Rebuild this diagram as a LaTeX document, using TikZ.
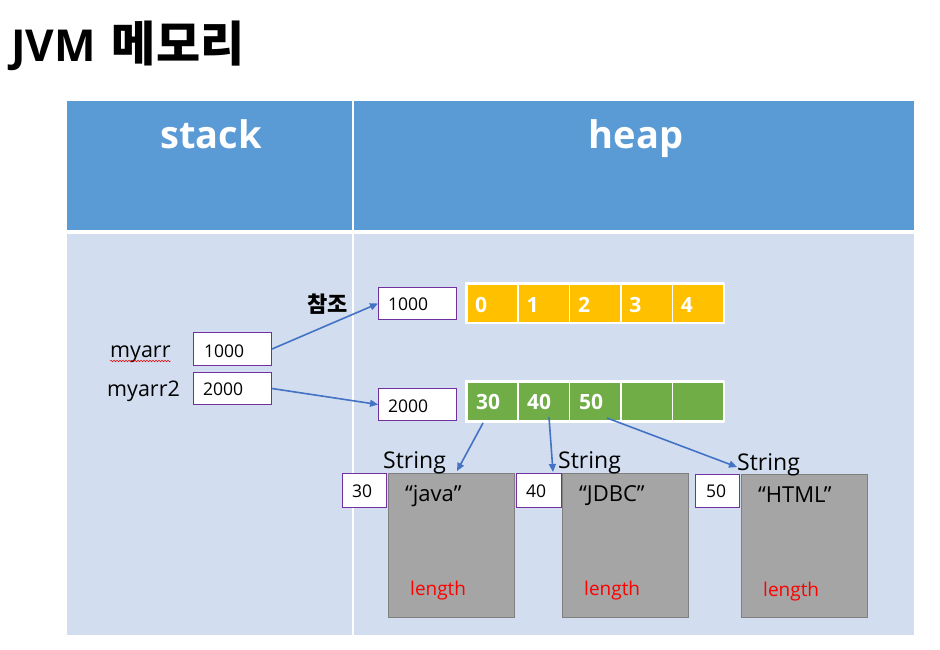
\documentclass[tikz,border=0pt]{standalone}
\usepackage{fontspec}
\setmainfont{Open Sans}
\newfontfamily\kr{Noto Sans CJK KR}
\usetikzlibrary{arrows.meta,decorations.pathmorphing,calc}
\definecolor{hdr}{HTML}{5B9BD5}
\definecolor{bodyc}{HTML}{D2DEEF}
\definecolor{purp}{HTML}{7030A0}
\definecolor{orng}{HTML}{FFC000}
\definecolor{grn}{HTML}{70AD47}
\definecolor{gbox}{HTML}{A5A5A5}
\definecolor{gline}{HTML}{7F7F7F}
\definecolor{arr}{HTML}{4472C4}
\tikzset{
  txt/.style={inner sep=0pt, anchor=base west, font=\fontsize{#1}{#1}\selectfont},
  valbox/.style={draw=purp, line width=1pt, fill=white, inner sep=0pt},
  ocell/.style={fill=orng, draw=white, line width=1.5pt, inner sep=0pt, minimum width=51.4pt, minimum height=39pt},
  gcell/.style={fill=grn, draw=white, line width=1.5pt, inner sep=0pt, minimum width=51.4pt, minimum height=39pt},
  strbox/.style={fill=gbox, draw=gline, line width=1pt, inner sep=0pt},
  ptr/.style={draw=arr, line width=1.6pt, -{Triangle[length=8pt,width=7pt]}},
  celltxt/.style={inner sep=0pt, anchor=base west, text=white, font=\bfseries\fontsize{21}{21}\selectfont},
}
\begin{document}
\begin{tikzpicture}[x=1pt,y=-1pt]
\useasboundingbox (0,0) rectangle (940,649);
\fill[white] (0,0) rectangle (940,649);
% title
\node[inner sep=0pt, anchor=base west, font=\bfseries\fontsize{44}{44}\selectfont] (title) at (11,61) {JVM\hspace{16pt}{\kr\fontsize{48}{48}\selectfont 메모리}};
% table
\fill[hdr] (67,101) rectangle (914,230);
\fill[bodyc] (67,234) rectangle (914,635);
\draw[white, line width=1.5pt] (353,101) -- (353,635);
\node[inner sep=0pt, anchor=base, text=white, font=\bfseries\fontsize{38}{38}\selectfont] (hstack) at (211,148) {stack};
\node[inner sep=0pt, anchor=base, text=white, font=\bfseries\fontsize{38}{38}\selectfont] (hheap) at (636,148) {heap};
% stack
\node[valbox, anchor=north west, minimum width=78pt, minimum height=33pt] (s1) at (193,332) {};
\node[valbox, anchor=north west, minimum width=78pt, minimum height=32pt] (s2) at (193,372) {};
\node[txt=17.5] (s1t) at (204,357) {1000};
\node[txt=17.5] (s2t) at (203,395) {2000};
\node[txt=21.5] (lmy) at (110,357) {myarr};
\node[txt=21.5] (lmy2) at (107,396) {myarr2};
\draw[red!90!black, line width=0.5pt, decorate, decoration={snake, amplitude=0.8pt, segment length=3pt}] ($(lmy.base west)+(0,4)$) coordinate (wv1) -- ($(lmy.base east)+(0,4)$) coordinate (wv2);
% heap refs
\node[valbox, anchor=north west, minimum width=78pt, minimum height=32pt] (h1) at (378,287) {};
\node[valbox, anchor=north west, minimum width=78pt, minimum height=32pt] (h2) at (378,388) {};
\node[txt=17.5] (h1t) at (388,310) {1000};
\node[txt=17.5] (h2t) at (388,412) {2000};
\node[inner sep=0pt, anchor=base west, font=\kr\bfseries\fontsize{22}{22}\selectfont] (cham) at (307,312) {참조};
% orange array
\fill[white] (465,282) rectangle (724,324);
\foreach \i/\v in {0/0,1/1,2/2,3/3,4/4}{
  \node[ocell, anchor=north west] (o\i) at (466+51.4*\i,283) {};
  \node[celltxt] (ot\i) at (475+51.4*\i,312) {\v};
}
% green array
\fill[white] (465,380) rectangle (724,423);
\foreach \i in {0,...,4}{
  \node[gcell, anchor=north west] (g\i) at (466+51.4*\i,381) {};
}
\node[celltxt] (gt0) at (476,409) {30};
\node[celltxt] (gt1) at (527,409) {40};
\node[celltxt] (gt2) at (579,409) {50};
% string boxes
\node[strbox, anchor=north west, minimum width=126pt, minimum height=144pt] (b1) at (388,473) {};
\node[strbox, anchor=north west, minimum width=126pt, minimum height=144pt] (b2) at (562,473) {};
\node[strbox, anchor=north west, minimum width=126pt, minimum height=143pt] (b3) at (741,474) {};
\node[valbox, anchor=north west, minimum width=44pt, minimum height=34pt] (n1) at (342,473) {};
\node[valbox, anchor=north west, minimum width=45pt, minimum height=34pt] (n2) at (516,473) {};
\node[valbox, anchor=north west, minimum width=44pt, minimum height=33pt] (n3) at (695,474) {};
\node[txt=17.5] (n1t) at (352,497) {30};
\node[txt=17.5] (n2t) at (526,497) {40};
\node[txt=17.5] (n3t) at (706,497) {50};
\node[txt=23] (st1) at (383,468) {String};
\node[txt=23] (st2) at (558,468) {String};
\node[txt=23] (st3) at (737,470) {String};
\node[txt=22] (q1) at (405,501) {“java”};
\node[txt=22] (q2) at (579,501) {“JDBC”};
\node[txt=22] (q3) at (758,502) {“HTML”};
\node[txt=19] (l1) at (410,595) {\color{red}length};
\node[txt=19] (l2) at (584,595) {\color{red}length};
\node[txt=19] (l3) at (763,596) {\color{red}length};
% arrows
\draw[ptr] (s1.east) -- (h1.west);
\draw[ptr] (s2.east) -- (h2.west);
\coordinate (a1s) at (483,423);
\coordinate (a1e) at (457,471);
\coordinate (a2s) at (549,417);
\coordinate (a2e) at (553,472);
\coordinate (a3s) at (607,418);
\coordinate (a3e) at (737,467);
\draw[ptr] (a1s) -- (a1e);
\draw[ptr] (a2s) -- (a2e);
\draw[ptr] (a3s) -- (a3e);
\end{tikzpicture}
\end{document}
